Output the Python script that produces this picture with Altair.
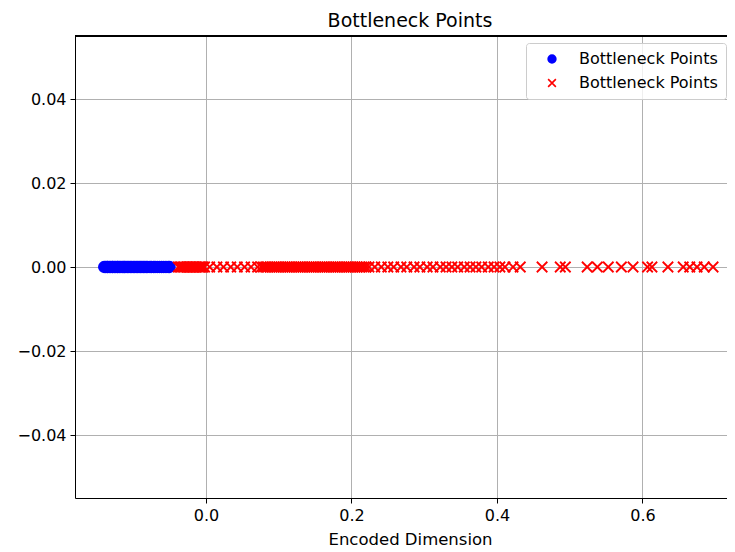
import altair as alt
import pandas as pd

# ---- data ----
blue_x = [-0.140, -0.138, -0.136, -0.135, -0.133, -0.131, -0.129, -0.128, -0.126,
          -0.124, -0.122, -0.121, -0.119, -0.117, -0.115, -0.113, -0.112, -0.110,
          -0.108, -0.106, -0.104, -0.102, -0.100, -0.098, -0.096, -0.094, -0.092,
          -0.090, -0.088, -0.086, -0.084, -0.082, -0.080, -0.077, -0.075, -0.072,
          -0.070, -0.067, -0.064, -0.061, -0.058, -0.055, -0.052, -0.050]

red_x = [-0.038, -0.036, -0.034, -0.032, -0.030, -0.028, -0.026, -0.024, -0.022,
         -0.020, -0.018, -0.016, -0.014, -0.012, -0.010, -0.008, -0.006, -0.004,
         -0.002,
         0.005, 0.015, 0.024, 0.034, 0.043, 0.053, 0.062, 0.071,
         0.076, 0.079, 0.082, 0.085, 0.088, 0.091, 0.094, 0.097, 0.100, 0.103,
         0.106, 0.109, 0.112, 0.115, 0.118, 0.121, 0.124, 0.127, 0.130, 0.133,
         0.136, 0.139, 0.142, 0.145, 0.148, 0.151, 0.154, 0.157, 0.160, 0.163,
         0.166, 0.169, 0.172, 0.175, 0.178, 0.181, 0.184, 0.187, 0.190, 0.193,
         0.196, 0.199, 0.202, 0.205, 0.208, 0.211, 0.214, 0.217, 0.220, 0.224,
         0.232, 0.241, 0.250, 0.258, 0.268, 0.276, 0.286, 0.294, 0.304, 0.312,
         0.322, 0.330, 0.338, 0.346, 0.355, 0.363, 0.371, 0.379, 0.388, 0.396,
         0.404, 0.411, 0.422, 0.432, 0.462, 0.487, 0.494, 0.524, 0.538, 0.553,
         0.571, 0.587, 0.607, 0.613, 0.635, 0.656, 0.665, 0.675, 0.685, 0.697]

series_names = ["circles", "crosses"]
series_colors = ["#0000ff", "#ff0000"]
legend_label = "Bottleneck Points"
chart_title = "Bottleneck Points"
x_title = "Encoded Dimension"
x_ticks = [0.0, 0.2, 0.4, 0.6]
y_ticks = [-0.04, -0.02, 0.0, 0.02, 0.04]

df = pd.DataFrame({
    "x": blue_x + red_x,
    "y": [0.0] * (len(blue_x) + len(red_x)),
    "series": [series_names[0]] * len(blue_x) + [series_names[1]] * len(red_x),
})

X_PATH = "M-1,-1L1,1M-1,1L1,-1"
FONT = "DejaVu Sans"

legend = alt.Legend(
    title=None,
    orient="none",
    legendX=451,
    legendY=7,
    labelExpr=f"'{legend_label}'",
    fillColor="rgba(255,255,255,0.8)",
    strokeColor="#cccccc",
    cornerRadius=3,
    padding=8,
    symbolOffset=10,
    labelOffset=19,
    rowPadding=8,
    symbolSize=60,
    symbolStrokeWidth=1.6,
    labelFont=FONT,
    labelFontSize=16,
    labelColor="#000000",
)

color_scale = alt.Scale(domain=series_names, range=series_colors)

points = alt.Chart(df).mark_point(filled=True, opacity=1, strokeWidth=1.8, size=110).encode(
    x=alt.X("x:Q",
            scale=alt.Scale(domain=[-0.18007, 0.7162], nice=False, zero=False),
            axis=alt.Axis(values=x_ticks, format=".1f", title=x_title, titleX=335,
                          titlePadding=8, labelPadding=4)),
    y=alt.Y("y:Q",
            scale=alt.Scale(domain=[-0.055, 0.055], nice=False, zero=False),
            axis=alt.Axis(values=y_ticks, format=".2f", title=None, labelPadding=4)),
    fill=alt.Fill("series:N", scale=color_scale, legend=legend),
    stroke=alt.Stroke("series:N", scale=color_scale, legend=legend),
    shape=alt.Shape("series:N", scale=alt.Scale(domain=series_names, range=["circle", X_PATH]),
                    legend=legend),
)

top_border = alt.Chart(df).mark_rule(color="#000000", strokeWidth=1).encode(y=alt.value(0))

chart = alt.layer(points, top_border).properties(
    width=652,
    height=462,
    autosize=alt.AutoSizeParams(type="none"),
    padding={"left": 67, "top": 28, "right": 0, "bottom": 52},
    title=alt.TitleParams(chart_title, font=FONT, fontSize=19, fontWeight="normal",
                          color="#000000", offset=5, dx=9),
).configure_view(stroke=None).configure_axis(
    grid=True,
    gridColor="#b0b0b0",
    gridWidth=1,
    domainColor="#000000",
    domainWidth=1,
    tickColor="#000000",
    tickSize=5,
    labelFont=FONT,
    labelFontSize=16,
    labelColor="#000000",
    titleFont=FONT,
    titleFontSize=16.5,
    titleFontWeight="normal",
    titleColor="#000000",
    zindex=1,
)

chart.save("out.html", embed_options={"renderer": "svg", "actions": False})
